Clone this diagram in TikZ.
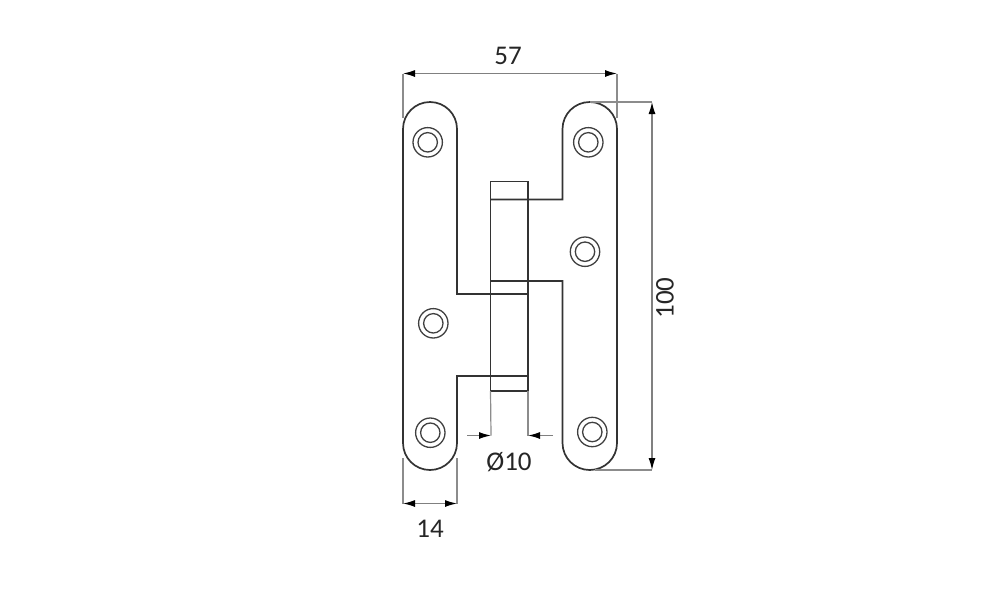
\documentclass[tikz,border=0pt]{standalone}
\usepackage{fontspec}
\setmainfont{Carlito}
\usetikzlibrary{arrows.meta}

\tikzstyle{outline} = [draw=black!80,line width=1.7pt]
\tikzstyle{hole} = [draw=black!75,line width=1.3pt]
\tikzstyle{extline} = [draw=black!45,line width=1.2pt]
\tikzstyle{dimline} = [draw=black!50,line width=1.2pt]
\tikzstyle{dimtip} = [-{Latex[black,length=12pt,width=7pt]}]
\tikzstyle{dimlabel} = [text=black!85,font=\fontsize{27}{27}\selectfont,inner sep=0pt]

\begin{document}
\begin{tikzpicture}[x=1pt,y=-1pt]
		\useasboundingbox (0,0) rectangle (1000,600);

		% leaves
		\draw[outline] (528,294) -- (457,294) -- (457,129)
			arc[start angle=0,end angle=180,x radius=27pt,y radius=27pt]
			-- (403,443)
			arc[start angle=180,end angle=360,x radius=27pt,y radius=27pt]
			-- (457,376) -- (528,376);
		\draw[outline] (490.5,199.5) -- (562.5,199.5) -- (562.5,129)
			arc[start angle=180,end angle=0,x radius=27.25pt,y radius=27pt]
			-- (617,443)
			arc[start angle=0,end angle=-180,x radius=27.25pt,y radius=27pt]
			-- (562.5,281) -- (490.5,281);
		\draw[outline] (490.5,181.5) rectangle (528,390.7);

		% screw holes
		\foreach \hx/\hy in {427.7/142.3,588.3/142.3,585/251.7,433.3/323.3,430.3/432.7,592.3/432}{
			\draw[hole] (\hx,\hy) circle (14.7pt);
			\draw[hole] (\hx,\hy) circle (9.7pt);
		}

		% dimension anchors
		\coordinate (t1) at (403,73.5);
		\coordinate (t2) at (617,73.5);
		\coordinate (r1) at (652,102);
		\coordinate (r2) at (652,470);
		\coordinate (w1) at (403,503.5);
		\coordinate (w2) at (457,503.5);
		\coordinate (d1) at (491,435.5);
		\coordinate (d2) at (528,435.5);
		\coordinate (d3) at (467,435.5);
		\coordinate (d4) at (553,435.5);

		% extension lines
		\draw[extline] (403,118) -- (t1);
		\draw[extline] (617,118) -- (t2);
		\draw[extline] (590,102) -- (r1);
		\draw[extline] (595,470) -- (r2);
		\draw[extline] (403,458) -- (w1);
		\draw[extline] (457,458) -- (w2);
		\draw[extline] (490.5,391) -- (d1);
		\draw[extline] (528,391) -- (d2);

		% dimension lines
		\draw[dimline,dimtip] (508,73.5) -- (t1);
		\draw[dimline,dimtip] (508,73.5) -- (t2);
		\draw[dimline,dimtip] (652,290) -- (r1);
		\draw[dimline,dimtip] (652,290) -- (r2);
		\draw[dimline,dimtip] (430,503.5) -- (w1);
		\draw[dimline,dimtip] (430,503.5) -- (w2);
		\draw[dimline,dimtip] (d3) -- (d1);
		\draw[dimline,dimtip] (d4) -- (d2);

		\node[dimlabel] (l57) at (508,56) {57};
		\node[dimlabel,rotate=90] (l100) at (665,298) {100};
		\node[dimlabel] (l14) at (430,529) {14};
		\node[dimlabel] (l10) at (509,462) {Ø10};
\end{tikzpicture}
\end{document}
